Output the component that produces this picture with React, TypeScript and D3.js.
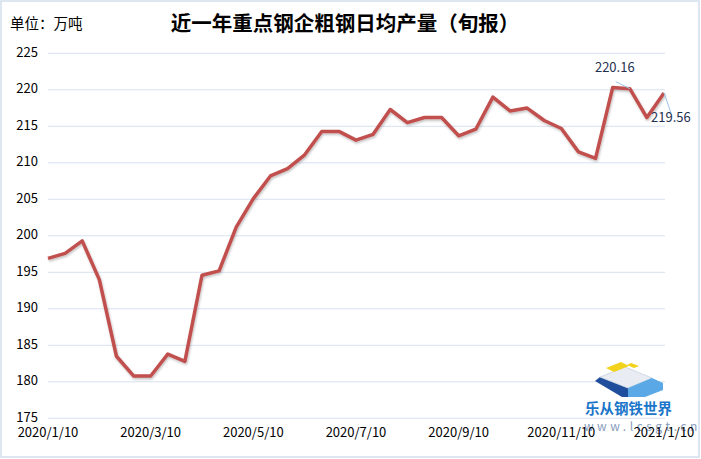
import React from "react";
import * as d3 from "d3";

const dates: string[] = [
  "2020/1/10", "2020/1/20", "2020/1/31", "2020/2/10", "2020/2/20", "2020/2/29",
  "2020/3/10", "2020/3/20", "2020/3/31", "2020/4/10", "2020/4/20", "2020/4/30",
  "2020/5/10", "2020/5/20", "2020/5/31", "2020/6/10", "2020/6/20", "2020/6/30",
  "2020/7/10", "2020/7/20", "2020/7/31", "2020/8/10", "2020/8/20", "2020/8/31",
  "2020/9/10", "2020/9/20", "2020/9/30", "2020/10/10", "2020/10/20", "2020/10/31",
  "2020/11/10", "2020/11/20", "2020/11/30", "2020/12/10", "2020/12/20", "2020/12/31",
  "2021/1/10",
];

const output: number[] = [
  196.9, 197.6, 199.3, 194.0, 183.5, 180.8,
  180.8, 183.8, 182.8, 194.6, 195.2, 201.2,
  205.1, 208.2, 209.2, 211.1, 214.3, 214.3,
  213.1, 213.9, 217.3, 215.5, 216.2, 216.2,
  213.7, 214.6, 219.0, 217.1, 217.5, 215.8,
  214.7, 211.5, 210.6, 220.3, 220.16, 216.2,
  219.56,
];

const yTicks: number[] = [175, 180, 185, 190, 195, 200, 205, 210, 215, 220, 225];
const xTickLabels: string[] = [
  "2020/1/10", "2020/3/10", "2020/5/10", "2020/7/10", "2020/9/10", "2020/11/10", "2021/1/10",
];
const annotated: { label: string; index: number }[] = [
  { label: "220.16", index: 34 },
  { label: "219.56", index: 36 },
];

const title = "近一年重点钢企粗钢日均产量（旬报）";
const unitLabel = "单位：万吨";
const brandName = "乐从钢铁世界";
const brandUrl = "www.lcsgt.cn";

const FONT = "'Noto Sans CJK SC', 'Noto Sans', sans-serif";

export default function App() {
  const W = 701;
  const H = 459;
  const x = d3.scaleLinear().domain([0, dates.length - 1]).range([48, 664]);
  const y = d3.scaleLinear().domain([175, 225]).range([418.3, 53.3]);
  const line = d3
    .line<number>()
    .x((_, i) => x(i))
    .y((d) => y(d));

  const a0 = annotated[0];
  const a1 = annotated[1];

  return (
    <svg
      width={W}
      height={H}
      style={{ position: "absolute", left: 0, top: 0, background: "#fff" }}
      fontFamily={FONT}
    >
      <defs>
        <filter id="sh" x="-5%" y="-5%" width="110%" height="115%">
          <feDropShadow dx="0.8" dy="1.6" stdDeviation="1" floodColor="#000" floodOpacity="0.25" />
        </filter>
      </defs>
      <rect x={1} y={1} width={698} height={456} fill="#fff" stroke="#d3deec" strokeWidth={1.5} />

      <text x={10} y={25} fontSize={14.5} dominantBaseline="middle" fill="#000">
        {unitLabel}
      </text>
      <text x={345} y={25} fontSize={20.5} fontWeight="bold" textAnchor="middle" dominantBaseline="middle" fill="#000">
        {title}
      </text>

      {yTicks.map((t) => (
        <g key={t}>
          <line x1={48} x2={665} y1={y(t)} y2={y(t)} stroke="#d7e2f0" strokeWidth={1} />
          <text x={38} y={y(t)} fontSize={13} textAnchor="end" dominantBaseline="middle" fill="#000">
            {t}
          </text>
        </g>
      ))}

      {/* brand logo */}
      <g>
        <polygon points="595,381 600,377 628,388 628,397 622,397" fill="#1f4e9c" />
        <polygon points="600,377 625,367 652,378 628,388" fill="#e9edf3" stroke="#c9d2de" strokeWidth={0.8} />
        <polygon points="628,388 652,378 663,383 663,390 645,397 628,397" fill="#5aa9e6" />
        <polygon points="606,368 621,362 629,366 614,372" fill="#f2d21b" />
        <polygon points="631,363 639,366 634,368 627,365" fill="#f2d21b" />
        <text x={585} y={410} fontSize={14.5} fontWeight="bold" dominantBaseline="middle" fill="#1b75c9" textLength={87}>
          {brandName}
        </text>
        <text x={584} y={428} fontSize={12} dominantBaseline="middle" fill="#8aa0c0" letterSpacing={3.5}>
          {brandUrl}
        </text>
      </g>

      {xTickLabels.map((lbl) => {
        const i = dates.indexOf(lbl);
        return (
          <text key={lbl} x={x(i)} y={433} fontSize={13} textAnchor="middle" dominantBaseline="middle" fill="#000">
            {lbl}
          </text>
        );
      })}

      <path d={line(output) || ""} fill="none" stroke="#c0504d" strokeWidth={3.5} strokeLinejoin="round" filter="url(#sh)" />

      {/* annotations */}
      <line x1={x(a0.index) - 14} y1={y(output[a0.index]) - 7} x2={x(a0.index)} y2={y(output[a0.index])} stroke="#9dc3e6" strokeWidth={1} />
      <text x={x(a0.index) - 15} y={68} fontSize={13} textAnchor="middle" dominantBaseline="middle" fill="#1f3050">
        {a0.label}
      </text>
      <line x1={x(a1.index)} y1={y(output[a1.index])} x2={x(a1.index) + 7} y2={y(output[a1.index]) + 20} stroke="#9dc3e6" strokeWidth={1} />
      <text x={651} y={118} fontSize={13} dominantBaseline="middle" fill="#1f3050">
        {a1.label}
      </text>
    </svg>
  );
}
